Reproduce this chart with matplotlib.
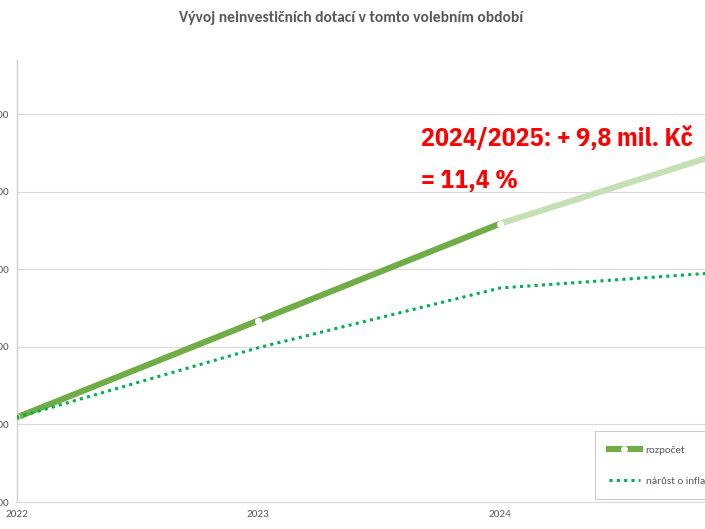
import matplotlib
matplotlib.use("Agg")
import matplotlib.pyplot as plt
from matplotlib.lines import Line2D

years = [2022, 2023, 2024, 2025]
rozpocet = [60.9, 73.4, 85.9, 95.8]
inflace = [60.9, 69.9, 77.6, 79.8]
yticks = [50, 60, 70, 80, 90, 100]
ytick_labels = ["50 000", "60 000", "70 000", "80 000", "90 000", "100 000"]
title = "Vývoj neinvestičních dotací v tomto volebním období"
note1 = "2024/2025: + 9,8 mil. Kč"
note2 = "= 11,4 %"
legend_labels = ["rozpočet", "nárůst o inflaci"]

base_font = ["Carlito", "Open Sans", "DejaVu Sans"]
hand_font = ["IBM Plex Sans Condensed", "DejaVu Sans"]
plt.rcParams["font.family"] = base_font

W, H = 705, 529
fig = plt.figure(figsize=(W / 100, H / 100), dpi=100)
ax = fig.add_axes([16.5 / W, (H - 502) / H, (742 - 16.5) / W, (502 - 60) / H])

dark = "#70AD47"
light = "#C5E0B4"
infl_c = "#00B050"
gray = "#595959"

ax.plot(years[:3], rozpocet[:3], color=dark, lw=4.4, solid_capstyle="butt", zorder=3)
ax.plot(years[2:], rozpocet[2:], color=light, lw=4.4, solid_capstyle="butt", zorder=2)
ax.plot(years[1:3], rozpocet[1:3], ls="none", marker="o", ms=4, mfc="white", mec="white", zorder=4)
ax.plot(years[:1], rozpocet[:1], ls="none", marker="o", ms=5, mfc="none", mec="#C9E3B8", mew=0.8, zorder=4)
ax.plot(years, inflace, color=infl_c, lw=2.2, ls=(0, (1, 1.4)), dash_capstyle="butt", zorder=3)

ax.set_xlim(2022, 2025)
ax.set_ylim(50, 107)
ax.set_xticks(years)
ax.set_xticklabels([str(y) for y in years])
ax.set_yticks(yticks)
ax.set_yticklabels(ytick_labels)
ax.tick_params(axis="both", length=0, labelsize=8, labelcolor=gray)
ax.tick_params(axis="y", pad=5.5)
ax.tick_params(axis="x", pad=6)
ax.grid(axis="y", color="#D9D9D9", lw=0.8)
ax.set_axisbelow(True)
for s in ["top", "right"]:
    ax.spines[s].set_visible(False)
ax.spines["left"].set_color("#D0D0D0")
ax.spines["bottom"].set_color("#D9D9D9")
ax.spines["left"].set_linewidth(1.0)
ax.spines["bottom"].set_linewidth(0.8)

fig.text(351 / W, 1 - 18 / H, title, ha="center", va="center", fontsize=11.2,
         fontweight="bold", color=gray)

fig.text(421 / W, 1 - 138 / H, note1, ha="left", va="center", fontsize=18.6,
         fontweight="bold", color="#FF0000", family=hand_font)
fig.text(421 / W, 1 - 181 / H, note2, ha="left", va="center", fontsize=18.6,
         fontweight="bold", color="#FF0000", family=hand_font)

handles = [
    Line2D([], [], color=dark, lw=4.4, marker="o", ms=4, mfc="white", mec="white"),
    Line2D([], [], color=infl_c, lw=2.2, ls=(0, (1, 1.4))),
]
leg = fig.legend(handles, legend_labels, loc="upper left",
                 bbox_to_anchor=(595 / W, 1 - 431 / H), frameon=True, fancybox=False,
                 fontsize=8, labelcolor=gray, handlelength=2.8, handletextpad=0.5,
                 labelspacing=1.9, borderpad=1.25, borderaxespad=0, numpoints=1)
leg.get_frame().set_edgecolor("#BFBFBF")
leg.get_frame().set_linewidth(0.8)

fig.savefig("out.png", dpi=100)
